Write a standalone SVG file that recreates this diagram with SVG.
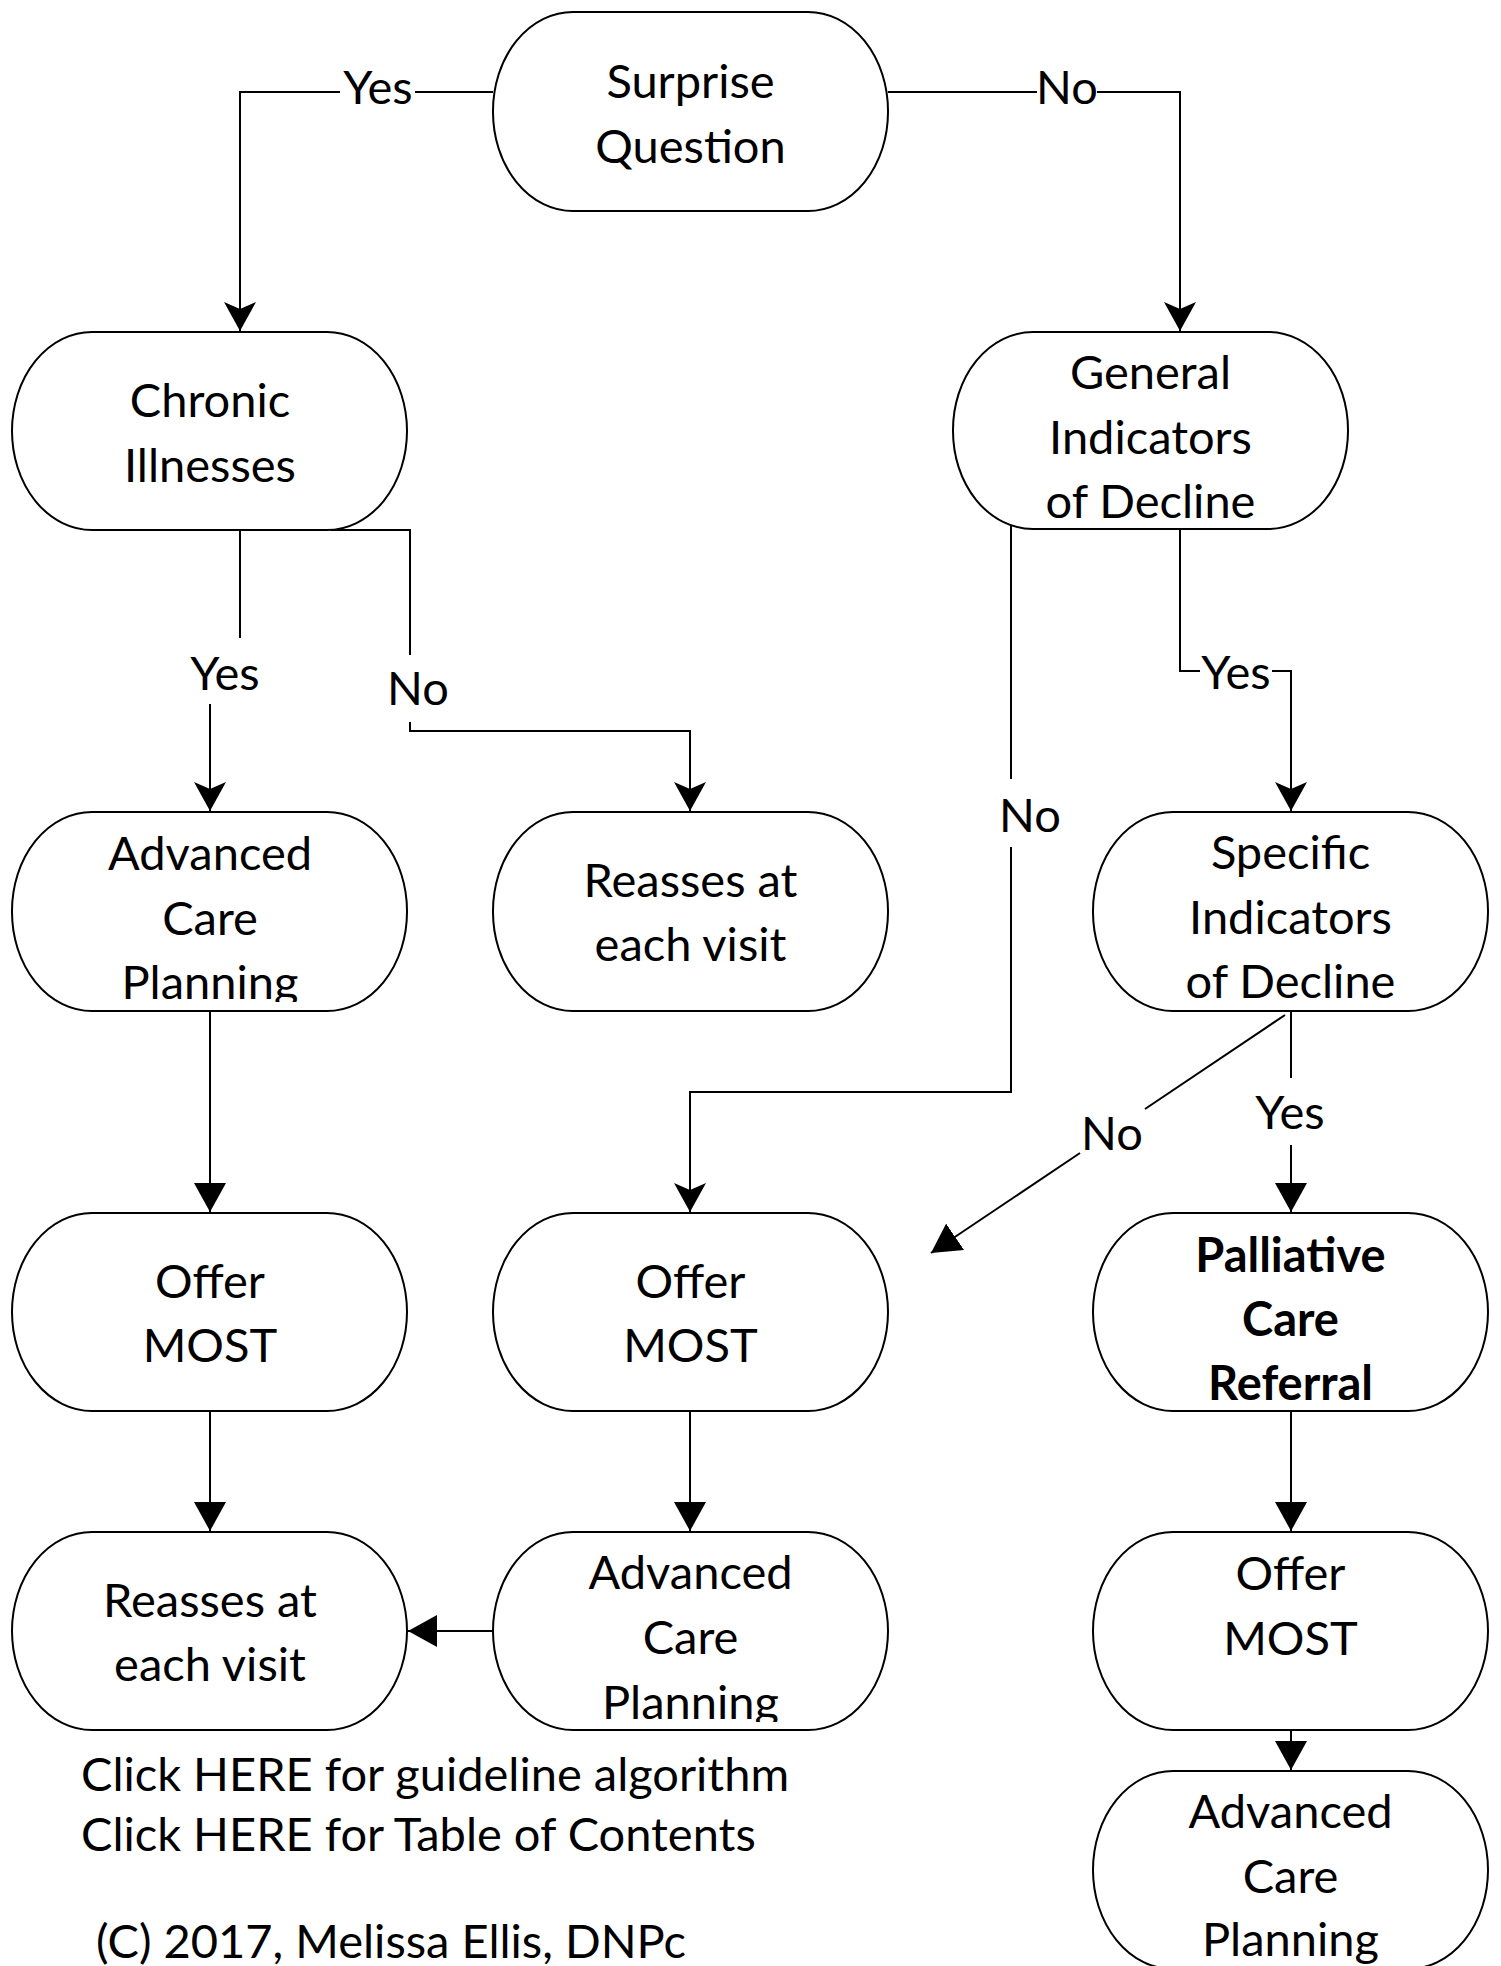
<svg xmlns="http://www.w3.org/2000/svg" width="1501" height="1966" viewBox="0 0 1501 1966">
<style>
.box{fill:#fff;stroke:#000;stroke-width:2}
.t{font-family:Lato,"Liberation Sans",sans-serif;font-size:47px;fill:#000;text-anchor:middle}
.b{font-weight:bold}
.lbl{font-family:Lato,"Liberation Sans",sans-serif;font-size:47px;fill:#000;text-anchor:middle}
.foot{font-family:Lato,"Liberation Sans",sans-serif;font-size:47px;fill:#000}
.ln{fill:none;stroke:#000;stroke-width:2}
.st{marker-end:url(#stealth)}
.pl{marker-end:url(#plain)}
</style>
<defs>
<marker id="plain" markerUnits="userSpaceOnUse" markerWidth="30" markerHeight="32" refX="29" refY="16" orient="auto" viewBox="0 0 30 32">
<path d="M0,0 L29,16 L0,32 Z" fill="#000"/>
</marker>
<marker id="stealth" markerUnits="userSpaceOnUse" markerWidth="30" markerHeight="32" refX="29" refY="16" orient="auto" viewBox="0 0 30 32">
<path d="M0,0 L29,16 L0,32 L7,16 Z" fill="#000"/>
</marker>
<clipPath id="clipA"><rect x="12" y="812" width="396" height="190"/></clipPath>
<clipPath id="clipB"><rect x="493" y="1532" width="396" height="190"/></clipPath>
</defs>
<rect width="1501" height="1966" fill="#fff"/>

<g id="connectors">
<path class="ln" d="M493,92 H415 M340,92 H240 V331" />
<path class="ln st" d="M240,130 V331"/>
<path class="ln" d="M888,92 H1037 M1097,92 H1180 V130"/>
<path class="ln st" d="M1180,130 V331"/>
<path class="ln" d="M240,530 V638"/>
<path class="ln st" d="M210,704 V811"/>
<path class="ln" d="M330,530 H410 V655"/>
<path class="ln st" d="M410,722 V731 H690 V811"/>
<path class="ln" d="M1180,529 V671 H1200"/>
<path class="ln st" d="M1272,671 H1291 V811"/>
<path class="ln" d="M1011,524 V779"/>
<path class="ln st" d="M1011,847 V1092 H690 V1212"/>
<path class="ln" d="M1291,1011 V1078"/>
<path class="ln pl" d="M1291,1145 V1212"/>
<path class="ln" d="M1285,1015 L1145,1109"/>
<path class="ln pl" d="M1080,1153 L931,1253"/>
<path class="ln pl" d="M210,1011 V1212"/>
<path class="ln pl" d="M210,1411 V1531"/>
<path class="ln pl" d="M690,1411 V1531"/>
<path class="ln pl" d="M493,1631 H408"/>
<path class="ln pl" d="M1291,1411 V1531"/>
<path class="ln pl" d="M1291,1730 V1770"/>
<text class="lbl" x="378" y="104">Yes</text>
<text class="lbl" x="1067" y="104">No</text>
<text class="lbl" x="225" y="690">Yes</text>
<text class="lbl" x="418" y="705">No</text>
<text class="lbl" x="1236" y="689">Yes</text>
<text class="lbl" x="1030" y="832">No</text>
<text class="lbl" x="1290" y="1129">Yes</text>
<text class="lbl" x="1112" y="1150">No</text>
</g>

<g id="n_surprise">
<rect class="box" x="493" y="12" width="395" height="199" rx="80" ry="99"/>
<text class="t" x="690.5" y="98">Surprise</text>
<text class="t" x="690.5" y="163">Question</text>
</g>
<g id="n_chronic">
<rect class="box" x="12" y="332" width="395" height="198" rx="80" ry="99"/>
<text class="t" x="210" y="417">Chronic</text>
<text class="t" x="210" y="482">Illnesses</text>
</g>
<g id="n_general">
<rect class="box" x="953" y="332" width="395" height="197" rx="80" ry="98"/>
<text class="t" x="1150.5" y="389">General</text>
<text class="t" x="1150.5" y="454">Indicators</text>
<text class="t" x="1150.5" y="518">of Decline</text>
</g>
<g id="n_acp1">
<rect class="box" x="12" y="812" width="395" height="199" rx="80" ry="99"/>
<text class="t" x="210" y="870">Advanced</text>
<text class="t" x="210" y="935">Care</text>
<text class="t" x="210" y="999" clip-path="url(#clipA)">Planning</text>
</g>
<g id="n_reassess1">
<rect class="box" x="493" y="812" width="395" height="199" rx="80" ry="99"/>
<text class="t" x="690.5" y="897">Reasses at</text>
<text class="t" x="690.5" y="961">each visit</text>
</g>
<g id="n_specific">
<rect class="box" x="1093" y="812" width="395" height="199" rx="80" ry="99"/>
<text class="t" x="1290.5" y="869">Specific</text>
<text class="t" x="1290.5" y="934">Indicators</text>
<text class="t" x="1290.5" y="998">of Decline</text>
</g>
<g id="n_offer1">
<rect class="box" x="12" y="1213" width="395" height="198" rx="80" ry="99"/>
<text class="t" x="210" y="1298">Offer</text>
<text class="t" x="210" y="1362">MOST</text>
</g>
<g id="n_offer2">
<rect class="box" x="493" y="1213" width="395" height="198" rx="80" ry="99"/>
<text class="t" x="690.5" y="1298">Offer</text>
<text class="t" x="690.5" y="1362">MOST</text>
</g>
<g id="n_palliative">
<rect class="box" x="1093" y="1213" width="395" height="198" rx="80" ry="99"/>
<text class="t b" x="1290.5" y="1272">Palliative</text>
<text class="t b" x="1290.5" y="1336">Care</text>
<text class="t b" x="1290.5" y="1400">Referral</text>
</g>
<g id="n_reassess2">
<rect class="box" x="12" y="1532" width="395" height="198" rx="80" ry="99"/>
<text class="t" x="210" y="1617">Reasses at</text>
<text class="t" x="210" y="1681">each visit</text>
</g>
<g id="n_acp2">
<rect class="box" x="493" y="1532" width="395" height="198" rx="80" ry="99"/>
<text class="t" x="690.5" y="1589">Advanced</text>
<text class="t" x="690.5" y="1654">Care</text>
<text class="t" x="690.5" y="1719" clip-path="url(#clipB)">Planning</text>
</g>
<g id="n_offer3">
<rect class="box" x="1093" y="1532" width="395" height="198" rx="80" ry="99"/>
<text class="t" x="1290.5" y="1590">Offer</text>
<text class="t" x="1290.5" y="1655">MOST</text>
</g>
<g id="n_acp3">
<rect class="box" x="1093" y="1771" width="395" height="198" rx="80" ry="99"/>
<text class="t" x="1290.5" y="1828">Advanced</text>
<text class="t" x="1290.5" y="1893">Care</text>
<text class="t" x="1290.5" y="1956">Planning</text>
</g>

<g id="footer">
<text class="foot" x="81" y="1791">Click HERE for guideline algorithm</text>
<text class="foot" x="81" y="1851">Click HERE for Table of Contents</text>
<text class="foot" x="96" y="1958">(C) 2017, Melissa Ellis, DNPc</text>
</g>
</svg>
